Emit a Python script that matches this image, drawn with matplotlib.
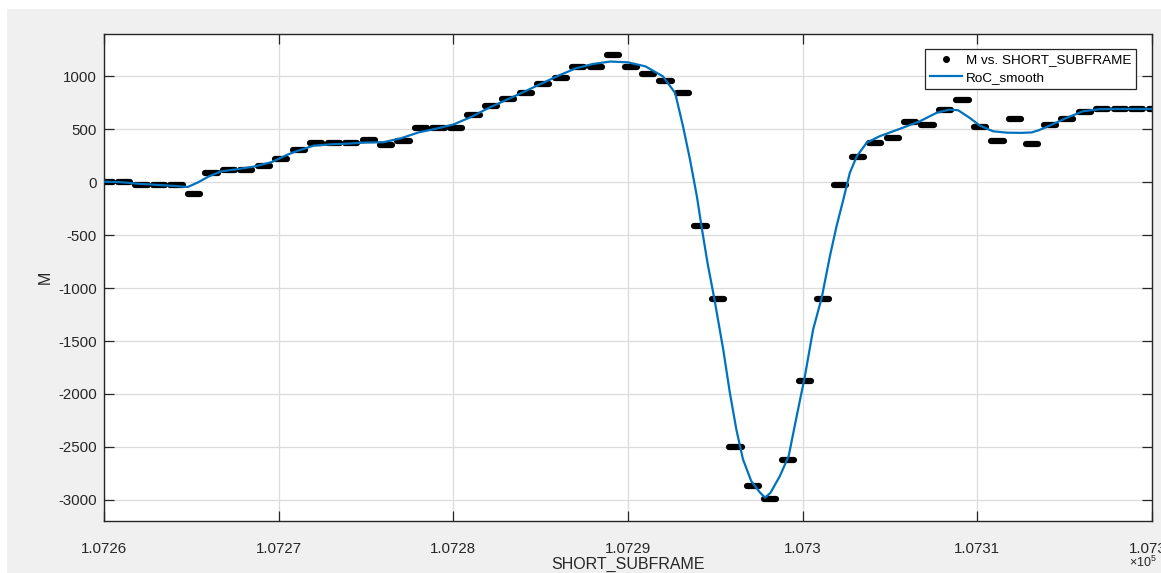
import numpy as np
import matplotlib
matplotlib.use('Agg')
import matplotlib.pyplot as plt
from matplotlib.lines import Line2D
from matplotlib.patches import Rectangle

plt.rcParams['font.family'] = ['Liberation Sans', 'DejaVu Sans']
plt.rcParams['mathtext.fontset'] = 'custom'
plt.rcParams['mathtext.rm'] = 'Liberation Sans'
plt.rcParams['axes.unicode_minus'] = False

# raw M per short subframe
subframe = np.arange(107260, 107321)
m_raw = [5, 5, -30, -30, -30, -115, 90, 120, 120, 157,
         218, 302, 368, 368, 368, 395, 355, 386, 516, 516,
         516, 632, 716, 782, 843, 930, 985, 1085, 1085, 1202,
         1085, 1023, 959, 843, -410, -1107, -2503, -2868, -2990, -2622,
         -1877, -1107, -30, 237, 372, 420, 570, 538, 686, 780,
         519, 390, 601, 365, 538, 601, 664, 692, 692, 692,
         692]

# smoothed curve (offset from 107260, value)
smooth_off = [0.0, 1.0, 2.0, 3.0, 4.0, 4.8, 5.4, 6.0, 6.7, 7.7,
              8.6, 9.6, 10.5, 11.0, 12.0, 13.0, 14.0, 15.0, 16.0, 17.0,
              18.0, 19.0, 20.0, 21.0, 22.0, 23.0, 24.0, 25.0, 26.0, 27.0,
              28.0, 29.0, 30.0, 31.0, 32.0, 32.7, 33.15, 33.55, 33.95, 34.2,
              34.55, 34.95, 35.45, 35.83, 36.2, 36.58, 37.05, 37.55, 37.85, 38.15,
              38.7, 39.2, 39.66, 40.13, 40.6, 41.09, 41.56, 41.94, 42.33, 42.7,
              43.1, 43.66, 44.4, 45.56, 46.7, 47.66, 48.4, 48.9, 49.57, 50.14,
              50.9, 51.7, 52.5, 53.1, 53.5, 54.05, 55.1, 56.05, 57.0, 58.0,
              59.0, 60.0]
smooth_m = [5, 0, -15, -25, -35, -45, 0, 55, 102, 125,
            148, 190, 260, 292, 345, 358, 365, 375, 378, 415,
            470, 505, 545, 615, 700, 775, 850, 928, 1005, 1075,
            1117, 1140, 1132, 1094, 1000, 843, 528, 214, -140, -408,
            -760, -1107, -1578, -1987, -2333, -2616, -2821, -2930, -2980, -2935,
            -2774, -2585, -2208, -1830, -1390, -1091, -698, -415, -163, 89,
            245, 372, 434, 504, 575, 655, 686, 680, 607, 535,
            481, 468, 466, 470, 490, 528, 607, 670, 690, 692,
            692, 692]
smooth_x = 107260 + np.array(smooth_off)

W, H = 1161, 573
fig = plt.figure(figsize=(W / 100, H / 100), dpi=100, facecolor='white')
fig.add_artist(Rectangle((7 / W, 0), 1, 1 - 9 / H, transform=fig.transFigure,
                         facecolor='#f0f0f0', edgecolor='none', zorder=-10))

ax = fig.add_axes([104 / W, 1 - 521 / H, 1048 / W, 487 / H])
ax.set_facecolor('white')

ax.hlines(m_raw, subframe - 0.2, subframe + 0.5, colors='black',
          linewidths=4.5, capstyle='round', zorder=2)
ax.plot(smooth_x, smooth_m, color='#0072BD', lw=1.6, zorder=3)

ax.set_xlim(107260, 107320)
ax.set_ylim(-3200, 1400)
xt = np.arange(107260, 107321, 10)
ax.set_xticks(xt)
ax.set_xticklabels([f"{v / 1e5:g}" for v in xt])
ax.set_yticks(np.arange(-3000, 1001, 500))

ax.grid(True, color='#dcdcdc', lw=0.9)
ax.set_axisbelow(True)
ax.tick_params(direction='in', length=7, width=0.9, top=True, right=True,
               colors='#262626', labelsize=10.8)
ax.tick_params(axis='x', pad=15)
ax.tick_params(axis='y', pad=5)
for s in ax.spines.values():
    s.set_color('#262626')
    s.set_linewidth(1.0)

ax.set_xlabel('SHORT_SUBFRAME', fontsize=11.5, color='#262626', labelpad=1)
ax.set_ylabel('M', fontsize=11.5, color='#262626', labelpad=4)
fig.text(1157 / W, 1 - 562 / H, r'$\times10^{5}$', fontsize=9,
         color='#262626', va='center', ha='right')

handles = [Line2D([], [], marker='o', ms=4, color='black', ls='none'),
           Line2D([], [], color='#0072BD', lw=1.6)]
leg = ax.legend(handles, ['M vs. SHORT_SUBFRAME', 'RoC_smooth'],
                loc='upper right', bbox_to_anchor=(0.9847, 0.969),
                borderaxespad=0, fontsize=9.7, fancybox=False, framealpha=1,
                edgecolor='#262626', handlelength=2.4, handletextpad=0.3,
                borderpad=0.35, labelspacing=0.4)
leg.get_frame().set_linewidth(0.9)

fig.savefig('out.png', dpi=100, facecolor=fig.get_facecolor())
